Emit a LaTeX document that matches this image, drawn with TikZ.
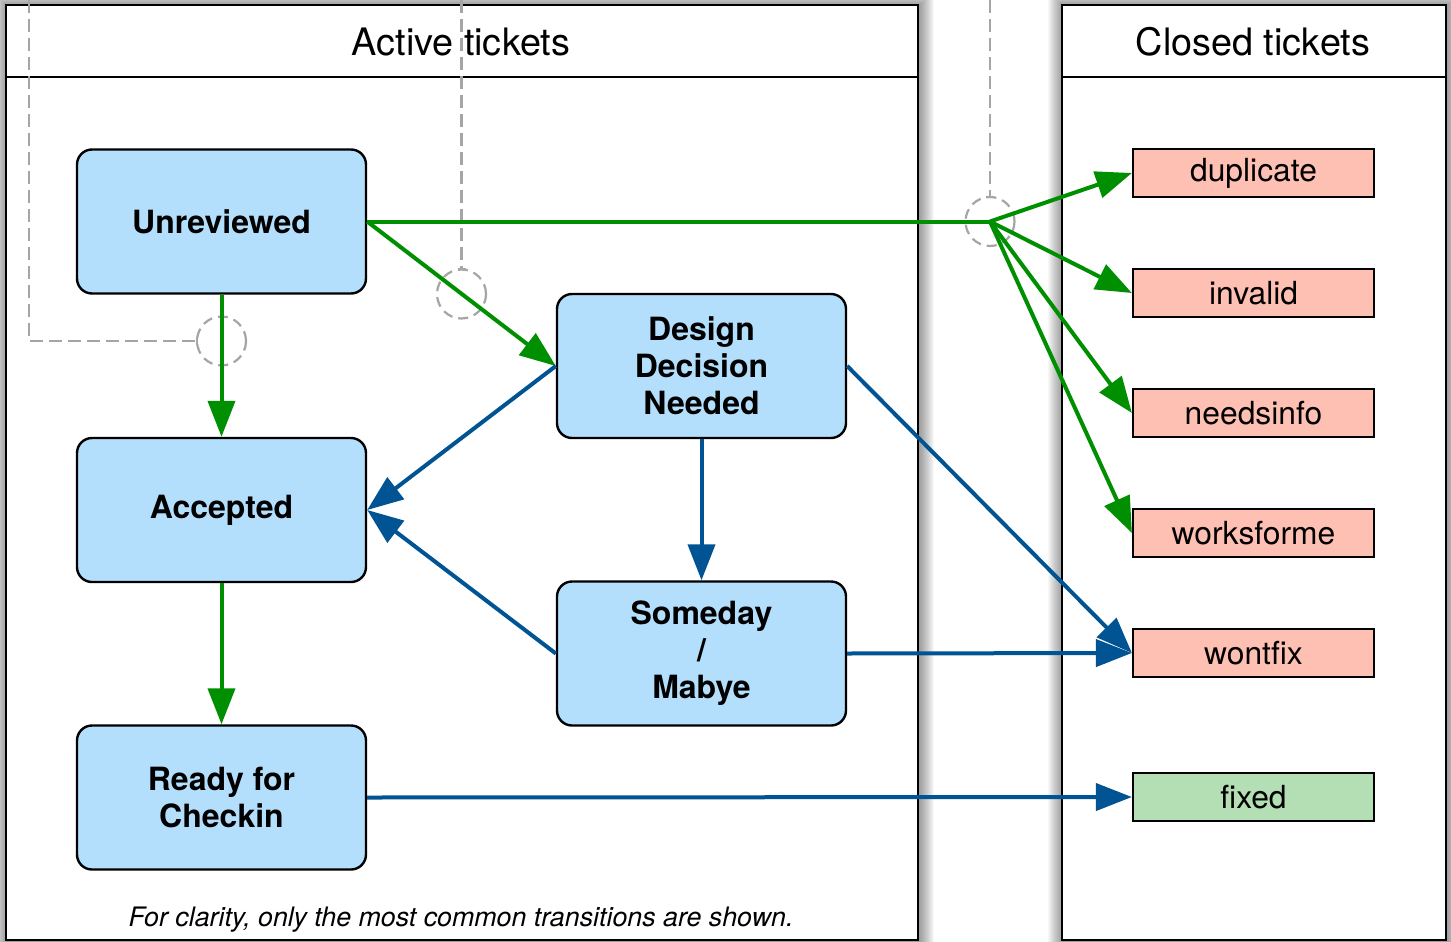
\documentclass[tikz,border=0pt]{standalone}
\usepackage{fontspec}
\setmainfont{TeX Gyre Heros}
\usetikzlibrary{arrows.meta}
\definecolor{grn}{RGB}{0,143,0}
\definecolor{blu}{RGB}{0,84,147}
\definecolor{nodefill}{RGB}{179,223,253}
\definecolor{redfill}{RGB}{255,192,180}
\definecolor{grnfill}{RGB}{180,222,180}
\definecolor{dashgray}{RGB}{165,165,165}
\begin{document}
\begin{tikzpicture}[x=0.5pt,y=-0.5pt,
  state/.style={draw=black, line width=1.2pt, fill=nodefill, rounded corners=7.5pt,
    minimum width=144.5pt, minimum height=72pt, align=center, inner sep=0pt,
    font=\bfseries\fontsize{16}{18.5}\selectfont},
  closedbox/.style={draw=black, line width=1.1pt, fill=redfill, minimum width=120.5pt,
    minimum height=24pt, inner sep=0pt, font=\fontsize{15.9}{18}\selectfont},
  panel/.style={draw=black, line width=1.2pt, fill=white},
  title/.style={font=\fontsize{18.9}{22}\selectfont, inner sep=0pt},
  tip/.style={-{Triangle[length=18pt,width=13.5pt]}},
  garrow/.style={draw=grn, line width=2pt, tip},
  gline/.style={draw=grn, line width=2pt},
  barrow/.style={draw=blu, line width=2pt, tip},
  hint/.style={draw=dashgray, line width=1.1pt, dash pattern=on 6.5pt off 3pt},
  hintcirc/.style={draw=dashgray, line width=1.1pt, dash pattern=on 5pt off 3pt}
]
\useasboundingbox (0,0) rectangle (1451,942);

% shadows
\foreach \i in {1,...,15}{
  \fill[black,opacity=0.03] (7-\i,6-\i) rectangle (919+\i,942+\i);
  \fill[black,opacity=0.03] (1063-\i,6-\i) rectangle (1447+\i,942+\i);
}

% panels
\draw[panel] (6,5) rectangle (918,940);
\draw[line width=1.2pt] (6,77) -- (918,77);
\draw[panel] (1062,5) rectangle (1446,940);
\draw[line width=1.2pt] (1062,77) -- (1446,77);
\node[title] (tact) at (461,42) {Active tickets};
\node[title] (tclo) at (1253,42) {Closed tickets};

% dashed hints
\draw[hint] (29,0) -- (29,341) -- (197,341);
\draw[dashgray, line width=1.1pt] (197,337) -- (197,345);
\draw[hintcirc] (221.5,341) circle[radius=12.25pt];
\draw[hint] (461.5,0) -- (461.5,269);
\draw[dashgray, line width=1.1pt] (457.5,269) -- (465.5,269);
\draw[hintcirc] (461.5,294) circle[radius=12.25pt];
\draw[hint] (990,0) -- (990,197);
\draw[dashgray, line width=1.1pt] (986,197) -- (994,197);
\draw[hintcirc] (990,221.5) circle[radius=12.25pt];

% states
\node[state] (U) at (221.5,221.5) {Unreviewed};
\node[state] (A) at (221.5,510) {Accepted};
\node[state] (R) at (221.5,797.5) {Ready for\\Checkin};
\node[state] (D) at (701.5,366) {Design\\Decision\\Needed};
\node[state] (S) at (701.5,653.5) {Someday\\/\\Mabye};

% closed
\node[closedbox] (dup) at (1253.5,173) {duplicate};
\node[closedbox] (inv) at (1253.5,293) {invalid};
\node[closedbox] (nei) at (1253.5,413) {needsinfo};
\node[closedbox] (wfm) at (1253.5,533) {worksforme};
\node[closedbox] (wnt) at (1253.5,653) {wontfix};
\node[closedbox, fill=grnfill] (fix) at (1253.5,797) {fixed};

\coordinate (J) at (990,221.5);

% green transitions
\draw[garrow] (U.south) -- (A.north);
\draw[garrow] (A.south) -- (R.north);
\draw[garrow] (U.east) -- (D.west);
\draw[gline] (U.east) -- (J);
\draw[garrow] (J) -- (dup.west);
\draw[garrow] (J) -- (inv.west);
\draw[garrow] (J) -- (nei.west);
\draw[garrow] (J) -- (wfm.west);

% blue transitions
\draw[barrow] (D.west) -- (A.east);
\draw[barrow] (S.west) -- (A.east);
\draw[barrow] (D.south) -- (S.north);
\draw[barrow] (D.east) -- (wnt.west);
\draw[barrow] (S.east) -- (wnt.west);
\draw[barrow] (R.east) -- (fix.west);

\node[font=\itshape\fontsize{13.4}{15}\selectfont, inner sep=0pt] (foot) at (461,920)
  {For clarity, only the most common transitions are shown.};
\end{tikzpicture}
\end{document}
